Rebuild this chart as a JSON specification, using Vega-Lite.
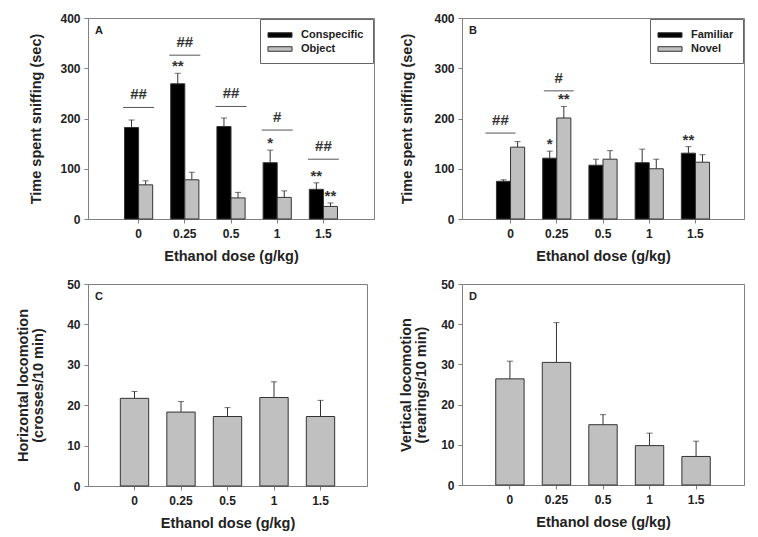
{
  "$schema": "https://vega.github.io/schema/vega-lite/v6.json",
  "padding": {"left": 15, "top": 11, "right": 5, "bottom": 5},
  "columns": 2,
  "bounds": "flush",
  "spacing": {"row": 65, "column": 88},
  "resolve": {
    "scale": {"fill": "independent", "xOffset": "independent", "x": "independent", "y": "independent"},
    "legend": {"fill": "independent"}
  },
  "config": {
    "font": "Liberation Sans",
    "background": "white",
    "view": {"stroke": "#808080", "strokeWidth": 1},
    "axis": {
      "grid": false,
      "domainColor": "#808080",
      "tickColor": "#808080",
      "tickSize": 4,
      "labelFont": "Liberation Sans",
      "labelFontWeight": "bold",
      "labelFontSize": 12,
      "labelColor": "#222222",
      "titleFont": "Liberation Sans",
      "titleFontSize": 14.5,
      "titleFontWeight": "bold",
      "titleColor": "#222222",
      "titleLineHeight": 15
    },
    "axisX": {"labelAngle": 0, "labelPadding": 5, "titlePadding": 10},
    "axisY": {"labelPadding": 4},
    "legend": {
      "orient": "top-right",
      "offset": 1,
      "title": null,
      "strokeColor": "#666666",
      "fillColor": "white",
      "padding": 9,
      "labelFont": "Liberation Sans",
      "labelFontSize": 11,
      "labelFontWeight": "bold",
      "labelColor": "#222222",
      "symbolOffset": 4,
      "labelOffset": 14,
      "rowPadding": 2,
      "symbolType": "M-1.85,-0.35H1.85V0.35H-1.85Z",
      "symbolSize": 169,
      "symbolStrokeColor": "#333333",
      "symbolStrokeWidth": 1
    },
    "title": {
      "anchor": "start",
      "frame": "group",
      "offset": -24,
      "dx": 7,
      "baseline": "alphabetic",
      "fontSize": 11,
      "fontWeight": "bold",
      "color": "#222222"
    }
  },
  "datasets": {
    "social": [
      {"dose": "0", "stim": "Conspecific", "mean": 182, "hi": 197, "star": ""},
      {"dose": "0", "stim": "Object", "mean": 68, "hi": 76, "star": ""},
      {"dose": "0.25", "stim": "Conspecific", "mean": 269, "hi": 290, "star": "**"},
      {"dose": "0.25", "stim": "Object", "mean": 78, "hi": 93, "star": ""},
      {"dose": "0.5", "stim": "Conspecific", "mean": 184, "hi": 201, "star": ""},
      {"dose": "0.5", "stim": "Object", "mean": 42, "hi": 53, "star": ""},
      {"dose": "1", "stim": "Conspecific", "mean": 112, "hi": 137, "star": "*"},
      {"dose": "1", "stim": "Object", "mean": 43, "hi": 56, "star": ""},
      {"dose": "1.5", "stim": "Conspecific", "mean": 59, "hi": 72, "star": "**"},
      {"dose": "1.5", "stim": "Object", "mean": 25, "hi": 32, "star": "**"}
    ],
    "socialPairs": [
      {"dose": "0", "level": 222, "label": "##"},
      {"dose": "0.25", "level": 326, "label": "##"},
      {"dose": "0.5", "level": 224, "label": "##"},
      {"dose": "1", "level": 177, "label": "#"},
      {"dose": "1.5", "level": 119, "label": "##"}
    ],
    "novelty": [
      {"dose": "0", "stim": "Familiar", "mean": 75, "hi": 78, "star": ""},
      {"dose": "0", "stim": "Novel", "mean": 143, "hi": 154, "star": ""},
      {"dose": "0.25", "stim": "Familiar", "mean": 121, "hi": 135, "star": "*"},
      {"dose": "0.25", "stim": "Novel", "mean": 201, "hi": 224, "star": "**"},
      {"dose": "0.5", "stim": "Familiar", "mean": 107, "hi": 119, "star": ""},
      {"dose": "0.5", "stim": "Novel", "mean": 119, "hi": 136, "star": ""},
      {"dose": "1", "stim": "Familiar", "mean": 112, "hi": 139, "star": ""},
      {"dose": "1", "stim": "Novel", "mean": 100, "hi": 119, "star": ""},
      {"dose": "1.5", "stim": "Familiar", "mean": 131, "hi": 144, "star": "**"},
      {"dose": "1.5", "stim": "Novel", "mean": 113, "hi": 128, "star": ""}
    ],
    "noveltyPairs": [
      {"dose": "0", "level": 171, "label": "##"},
      {"dose": "0.25", "level": 255, "label": "#"}
    ],
    "horizontal": [
      {"dose": "0", "mean": 21.7, "hi": 23.4},
      {"dose": "0.25", "mean": 18.3, "hi": 20.9},
      {"dose": "0.5", "mean": 17.2, "hi": 19.4},
      {"dose": "1", "mean": 21.9, "hi": 25.8},
      {"dose": "1.5", "mean": 17.2, "hi": 21.2}
    ],
    "vertical": [
      {"dose": "0", "mean": 26.4, "hi": 30.8},
      {"dose": "0.25", "mean": 30.5, "hi": 40.4},
      {"dose": "0.5", "mean": 15.0, "hi": 17.5},
      {"dose": "1", "mean": 9.8, "hi": 12.9},
      {"dose": "1.5", "mean": 7.1, "hi": 10.9}
    ]
  },
  "concat": [
    {
      "width": 286,
      "height": 201,
      "title": "A",
      "data": {"name": "social"},
      "encoding": {
        "x": {
          "field": "dose", "type": "nominal",
          "sort": ["0", "0.25", "0.5", "1", "1.5"],
          "scale": {"paddingInner": 0.39, "paddingOuter": 0.79},
          "axis": {"title": "Ethanol dose (g/kg)"}
        }
      },
      "layer": [
        {
          "mark": {"type": "rule", "color": "#333333", "strokeWidth": 1},
          "encoding": {
            "xOffset": {"field": "stim", "sort": ["Conspecific", "Object"]},
            "y": {"field": "mean", "type": "quantitative", "scale": {"domain": [0, 400]}, "axis": {"title": "Time spent sniffing (sec)", "values": [0, 100, 200, 300, 400], "titlePadding": 16}},
            "y2": {"field": "hi"}
          }
        },
        {
          "mark": {"type": "tick", "orient": "horizontal", "size": 6, "thickness": 1, "color": "#333333"},
          "encoding": {
            "xOffset": {"field": "stim", "sort": ["Conspecific", "Object"]},
            "y": {"field": "hi", "type": "quantitative"}
          }
        },
        {
          "mark": {"type": "bar", "stroke": "#333333", "strokeWidth": 1},
          "encoding": {
            "xOffset": {"field": "stim", "sort": ["Conspecific", "Object"]},
            "y": {"field": "mean", "type": "quantitative"},
            "fill": {
              "field": "stim", "type": "nominal",
              "scale": {"domain": ["Conspecific", "Object"], "range": ["#000000", "#c0c0c0"]},
              "legend": {"labelExpr": "datum.label + '\u00a0\u00a0'"}
            }
          }
        },
        {
          "mark": {"type": "text", "fontSize": 15, "fontWeight": "bold", "color": "#333333", "baseline": "alphabetic", "dy": -2},
          "encoding": {
            "xOffset": {"field": "stim", "sort": ["Conspecific", "Object"]},
            "y": {"field": "hi", "type": "quantitative"},
            "text": {"field": "star"}
          }
        },
        {
          "data": {"name": "socialPairs"},
          "mark": {"type": "rule", "color": "#555555", "strokeWidth": 1},
          "encoding": {
            "x": {"field": "dose", "type": "nominal", "sort": ["0", "0.25", "0.5", "1", "1.5"], "bandPosition": -0.05},
            "x2": {"field": "dose", "bandPosition": 1.05},
            "y": {"field": "level", "type": "quantitative"}
          }
        },
        {
          "data": {"name": "socialPairs"},
          "mark": {"type": "text", "fontSize": 15, "fontWeight": "bold", "color": "#333333", "baseline": "alphabetic", "dy": -8},
          "encoding": {
            "y": {"field": "level", "type": "quantitative"},
            "text": {"field": "label"}
          }
        }
      ]
    },
    {
      "width": 282,
      "height": 201,
      "title": "B",
      "data": {"name": "novelty"},
      "encoding": {
        "x": {
          "field": "dose", "type": "nominal",
          "sort": ["0", "0.25", "0.5", "1", "1.5"],
          "scale": {"paddingInner": 0.39, "paddingOuter": 0.745},
          "axis": {"title": "Ethanol dose (g/kg)"}
        }
      },
      "layer": [
        {
          "mark": {"type": "rule", "color": "#333333", "strokeWidth": 1},
          "encoding": {
            "xOffset": {"field": "stim", "sort": ["Familiar", "Novel"]},
            "y": {"field": "mean", "type": "quantitative", "scale": {"domain": [0, 400]}, "axis": {"title": "Time spent sniffing (sec)", "values": [0, 100, 200, 300, 400], "titlePadding": 19}},
            "y2": {"field": "hi"}
          }
        },
        {
          "mark": {"type": "tick", "orient": "horizontal", "size": 6, "thickness": 1, "color": "#333333"},
          "encoding": {
            "xOffset": {"field": "stim", "sort": ["Familiar", "Novel"]},
            "y": {"field": "hi", "type": "quantitative"}
          }
        },
        {
          "mark": {"type": "bar", "stroke": "#333333", "strokeWidth": 1},
          "encoding": {
            "xOffset": {"field": "stim", "sort": ["Familiar", "Novel"]},
            "y": {"field": "mean", "type": "quantitative"},
            "fill": {
              "field": "stim", "type": "nominal",
              "scale": {"domain": ["Familiar", "Novel"], "range": ["#000000", "#c0c0c0"]},
              "legend": {"labelExpr": "datum.label"}
            }
          }
        },
        {
          "mark": {"type": "text", "fontSize": 15, "fontWeight": "bold", "color": "#333333", "baseline": "alphabetic", "dy": -2},
          "encoding": {
            "xOffset": {"field": "stim", "sort": ["Familiar", "Novel"]},
            "y": {"field": "hi", "type": "quantitative"},
            "text": {"field": "star"}
          }
        },
        {
          "data": {"name": "noveltyPairs"},
          "transform": [{"filter": "datum.dose == '0'"}],
          "mark": {"type": "rule", "color": "#555555", "strokeWidth": 1},
          "encoding": {
            "x": {"field": "dose", "type": "nominal", "sort": ["0", "0.25", "0.5", "1", "1.5"], "bandPosition": -0.39},
            "x2": {"field": "dose", "bandPosition": 0.68},
            "y": {"field": "level", "type": "quantitative"}
          }
        },
        {
          "data": {"name": "noveltyPairs"},
          "transform": [{"filter": "datum.dose == '0'"}],
          "mark": {"type": "text", "fontSize": 15, "fontWeight": "bold", "color": "#333333", "baseline": "alphabetic", "dy": -8},
          "encoding": {
            "x": {"field": "dose", "type": "nominal", "sort": ["0", "0.25", "0.5", "1", "1.5"], "bandPosition": 0.14},
            "y": {"field": "level", "type": "quantitative"},
            "text": {"field": "label"}
          }
        },
        {
          "data": {"name": "noveltyPairs"},
          "transform": [{"filter": "datum.dose == '0.25'"}],
          "mark": {"type": "rule", "color": "#555555", "strokeWidth": 1},
          "encoding": {
            "x": {"field": "dose", "type": "nominal", "sort": ["0", "0.25", "0.5", "1", "1.5"], "bandPosition": 0.04},
            "x2": {"field": "dose", "bandPosition": 1.1},
            "y": {"field": "level", "type": "quantitative"}
          }
        },
        {
          "data": {"name": "noveltyPairs"},
          "transform": [{"filter": "datum.dose == '0.25'"}],
          "mark": {"type": "text", "fontSize": 15, "fontWeight": "bold", "color": "#333333", "baseline": "alphabetic", "dy": -8},
          "encoding": {
            "x": {"field": "dose", "type": "nominal", "sort": ["0", "0.25", "0.5", "1", "1.5"], "bandPosition": 0.57},
            "y": {"field": "level", "type": "quantitative"},
            "text": {"field": "label"}
          }
        }
      ]
    },
    {
      "width": 279,
      "height": 202,
      "title": "C",
      "data": {"name": "horizontal"},
      "encoding": {
        "x": {
          "field": "dose", "type": "nominal",
          "sort": ["0", "0.25", "0.5", "1", "1.5"],
          "scale": {"paddingInner": 0.39, "paddingOuter": 0.695},
          "axis": {"title": "Ethanol dose (g/kg)"}
        }
      },
      "layer": [
        {
          "mark": {"type": "rule", "color": "#333333", "strokeWidth": 1},
          "encoding": {
            "y": {"field": "mean", "type": "quantitative", "scale": {"domain": [0, 50]}, "axis": {"title": ["Horizontal locomotion", "(crosses/10 min)"], "values": [0, 10, 20, 30, 40, 50], "titlePadding": 21}},
            "y2": {"field": "hi"}
          }
        },
        {
          "mark": {"type": "tick", "orient": "horizontal", "size": 6, "thickness": 1, "color": "#333333"},
          "encoding": {"y": {"field": "hi", "type": "quantitative"}}
        },
        {
          "mark": {"type": "bar", "fill": "#c0c0c0", "stroke": "#333333", "strokeWidth": 1},
          "encoding": {"y": {"field": "mean", "type": "quantitative"}}
        }
      ]
    },
    {
      "width": 282,
      "height": 201,
      "title": "D",
      "data": {"name": "vertical"},
      "encoding": {
        "x": {
          "field": "dose", "type": "nominal",
          "sort": ["0", "0.25", "0.5", "1", "1.5"],
          "scale": {"paddingInner": 0.39, "paddingOuter": 0.725},
          "axis": {"title": "Ethanol dose (g/kg)"}
        }
      },
      "layer": [
        {
          "mark": {"type": "rule", "color": "#333333", "strokeWidth": 1},
          "encoding": {
            "y": {"field": "mean", "type": "quantitative", "scale": {"domain": [0, 50]}, "axis": {"title": ["Vertical locomotion", "(rearings/10 min)"], "values": [0, 10, 20, 30, 40, 50], "titlePadding": 12}},
            "y2": {"field": "hi"}
          }
        },
        {
          "mark": {"type": "tick", "orient": "horizontal", "size": 6, "thickness": 1, "color": "#333333"},
          "encoding": {"y": {"field": "hi", "type": "quantitative"}}
        },
        {
          "mark": {"type": "bar", "fill": "#c0c0c0", "stroke": "#333333", "strokeWidth": 1},
          "encoding": {"y": {"field": "mean", "type": "quantitative"}}
        }
      ]
    }
  ]
}
